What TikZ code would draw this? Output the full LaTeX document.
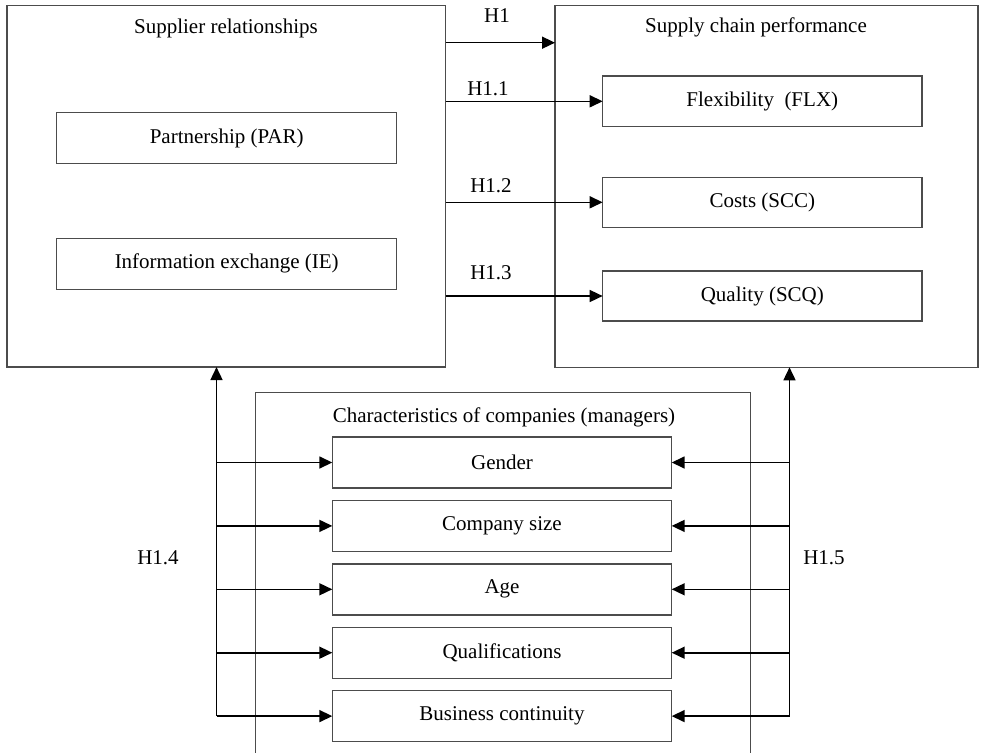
\documentclass[tikz,border=0pt]{standalone}
\usepackage{fontspec}
\setmainfont{Liberation Serif}
\usetikzlibrary{arrows.meta}
\begin{document}
\begin{tikzpicture}[x=1pt,y=-1pt,
  every node/.style={font=\fontsize{21}{26}\selectfont, inner sep=0pt, outer sep=0pt},
  bigbox/.style={draw=black!70, line width=1.5pt, rectangle},
  itembox/.style={draw=black!70, line width=1.4pt, rectangle, minimum width=339.4pt, minimum height=51pt},
  lbl/.style={},
  conn/.style={draw=black, line width=1.6pt, -{Triangle[length=13pt,width=12pt]}},
]
\useasboundingbox (0,0) rectangle (984,752);
\clip (0,0) rectangle (984,752);
\fill[white] (0,0) rectangle (984,752);

% big boxes
\node[bigbox, minimum width=438.5pt, minimum height=361.5pt] (sr) at (226.3,186.3) {};
\node[lbl] (srt) at (226,28) {Supplier relationships};
\node[bigbox, minimum width=423pt, minimum height=361.6pt] (scp) at (766.5,186.5) {};
\node[lbl] (scpt) at (756,27) {Supply chain performance};

% left inner boxes
\node[itembox, minimum width=340pt, minimum height=50.6pt] (par) at (226.7,138) {Partnership (PAR)};
\node[itembox, minimum width=340pt, minimum height=51pt] (ie) at (226.7,263.8) {Information exchange (IE)};

% right inner boxes
\node[itembox, minimum width=319.3pt, minimum height=50.7pt] (flx) at (762.3,101.3) {Flexibility\ \ (FLX)};
\node[itembox, minimum width=319.3pt, minimum height=50pt] (scc) at (762.3,202.3) {Costs (SCC)};
\node[itembox, minimum width=319.3pt, minimum height=50pt] (scq) at (762.3,296) {Quality (SCQ)};

% H1 arrows
\coordinate (h1s) at (445.5,42.7);
\draw[conn] (h1s) -- (h1s -| scp.west);
\node[lbl] (h1) at (497,16) {H1};
\draw[conn] (sr.east |- flx.west) -- (flx.west);
\node[lbl] (h11) at (488,89) {H1.1};
\draw[conn] (sr.east |- scc.west) -- (scc.west);
\node[lbl] (h12) at (491,186) {H1.2};
\draw[conn] (sr.east |- scq.west) -- (scq.west);
\node[lbl] (h13) at (491,272.5) {H1.3};

% characteristics box (open at bottom, clipped)
\node[bigbox, minimum width=495pt, minimum height=400pt, anchor=north west] (chr) at (255.7,392.7) {};
\node[lbl] (chrt) at (504,417.5) {Characteristics of companies (managers)};

\node[itembox] (gen) at (502,462.5) {Gender};
\node[itembox] (csz) at (502,525.9) {Company size};
\node[itembox] (age) at (502,589.3) {Age};
\node[itembox] (qua) at (502,652.7) {Qualifications};
\node[itembox] (bus) at (502,716.1) {Business continuity};

% verticals (H1.4, H1.5)
\coordinate (lb) at (216.5,716.1);
\coordinate (rb) at (789.5,716.1);
\draw[conn] (lb) -- (lb |- sr.south);
\draw[conn] (rb) -- (rb |- scp.south);
\foreach \n in {gen,csz,age,qua,bus} {
  \draw[conn] (lb |- \n.west) -- (\n.west);
  \draw[conn] (rb |- \n.east) -- (\n.east);
}
\node[lbl] (h14) at (158,558) {H1.4};
\node[lbl] (h15) at (824,558) {H1.5};
\end{tikzpicture}
\end{document}
